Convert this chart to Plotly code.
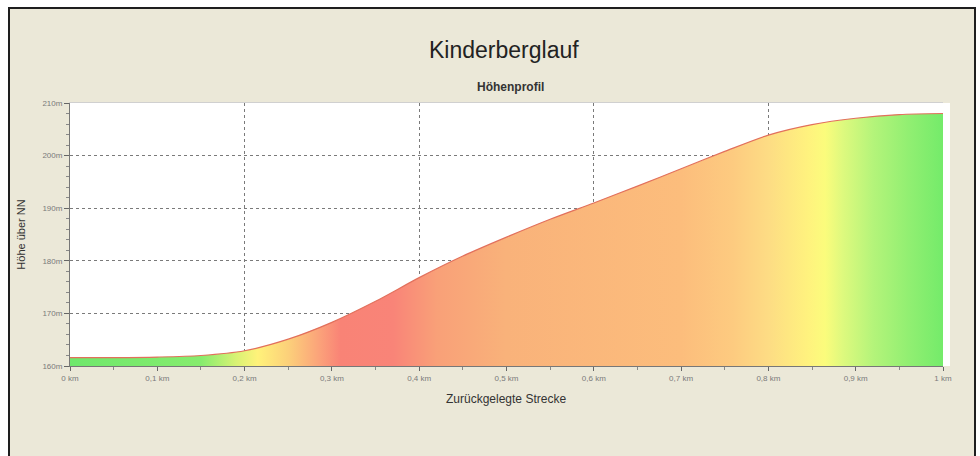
import plotly.graph_objects as go

# ---- data ----
distance_km = [0.0, 0.05, 0.1, 0.15, 0.2, 0.25, 0.3, 0.35, 0.4, 0.45, 0.5,
               0.55, 0.6, 0.65, 0.7, 0.75, 0.8, 0.85, 0.9, 0.95, 1.0]
elevation_m = [161.6, 161.6, 161.7, 162.0, 162.9, 165.1, 168.3, 172.3, 176.8, 180.9, 184.5,
               187.9, 191.0, 194.2, 197.5, 200.8, 203.9, 205.9, 207.1, 207.8, 208.0]

x_tick_vals = [0.0, 0.1, 0.2, 0.3, 0.4, 0.5, 0.6, 0.7, 0.8, 0.9, 1.0]
x_tick_text = ["0 km", "0,1 km", "0,2 km", "0,3 km", "0,4 km", "0,5 km",
               "0,6 km", "0,7 km", "0,8 km", "0,9 km", "1 km"]
x_grid_vals = [0.2, 0.4, 0.6, 0.8, 1.0]
y_tick_vals = [160, 170, 180, 190, 200, 210]
y_tick_text = ["160m", "170m", "180m", "190m", "200m", "210m"]

# gradient stops along the distance (slope colouring)
grad_pos = [0.0, 0.15, 0.19, 0.215, 0.25, 0.285, 0.31, 0.37, 0.42, 0.5, 0.7, 0.76,
            0.8, 0.845, 0.865, 0.885, 0.92, 0.96, 1.0]
grad_col = ["#6fe86c", "#86ec6e", "#d8f274", "#fff27a", "#fcd07a", "#fba37a", "#f98376",
            "#f98478", "#f9a078", "#f9b27a", "#fcbd7c", "#fdcb80", "#fddc84", "#fff27e",
            "#fbfc7c", "#def97e", "#b4f47a", "#92ef72", "#74eb6a"]

FONT = "Liberation Sans, Arial, sans-serif"
W, H = 980, 456

fig = go.Figure()

fig.add_trace(go.Scatter(
    x=distance_km, y=elevation_m, mode="lines",
    line=dict(color="#e2705c", width=1.2, shape="spline", smoothing=0.8),
    fill="tozeroy",
    fillgradient=dict(type="horizontal",
                      colorscale=[[p, c] for p, c in zip(grad_pos, grad_col)]),
    hoverinfo="skip", showlegend=False,
))
# helper trace for the labelled axis
fig.add_trace(go.Scatter(x=[distance_km[0], distance_km[-1]], y=[elevation_m[0], elevation_m[0]],
                         xaxis="x2", mode="lines", line=dict(width=0),
                         hoverinfo="skip", showlegend=False))

# pixel positions of the plot area
PL, PR, PT, PB = 70, 943, 103, 366
pw, ph = PR - PL, PB - PT


def px(xp):
    return (xp - PL) / pw


def py(yp):
    return (PB - yp) / ph


fig.add_shape(type="rect", xref="paper", yref="paper",
              x0=px(9), x1=px(975), y0=py(480), y1=py(8),
              fillcolor="#ebe8d8", line=dict(color="#1e1e1e", width=2), layer="below")
fig.add_shape(type="rect", xref="paper", yref="paper",
              x0=0, x1=px(950), y0=0, y1=1,
              fillcolor="#ffffff", line=dict(width=0), layer="below")

fig.update_layout(
    width=W, height=H,
    margin=dict(l=PL, r=W - PR, t=PT, b=H - PB),
    paper_bgcolor="#ffffff", plot_bgcolor="rgba(0,0,0,0)",
    font=dict(family=FONT, color="#333333"),
    xaxis=dict(range=[0, 1], tickvals=x_grid_vals, showticklabels=False,
               showgrid=True, gridcolor="#7a7a7a", griddash="dot", gridwidth=1,
               zeroline=False, showline=True, linecolor="#d0d0d0", mirror=True,
               ticks=""),
    xaxis2=dict(range=[0, 1], overlaying="x", anchor="y", side="bottom",
                tickvals=x_tick_vals, ticktext=x_tick_text,
                tickfont=dict(size=8, color="#7a7a7a", family=FONT),
                ticks="outside", ticklen=4, tickcolor="#666666",
                minor=dict(dtick=0.05, ticks="outside", ticklen=3, tickcolor="#888888"),
                showgrid=False, zeroline=False, showline=True, linecolor="#777777"),
    yaxis=dict(range=[160, 210], tickvals=y_tick_vals, ticktext=y_tick_text,
               tickfont=dict(size=8, color="#7a7a7a", family=FONT),
               showgrid=True, gridcolor="#7a7a7a", griddash="dot", gridwidth=1,
               zeroline=False, showline=True, linecolor="#777777",
               ticks="outside", ticklen=5, tickcolor="#666666",
               minor=dict(dtick=2, ticks="outside", ticklen=3, tickcolor="#888888"),
               title=dict(text="Höhe über NN", font=dict(size=11, color="#333333"), standoff=14)),
)

fig.add_annotation(text="Kinderberglauf", xref="paper", yref="paper",
                   x=px(504), y=py(50), yanchor="middle", showarrow=False,
                   font=dict(size=23, color="#222222", family=FONT))
fig.add_annotation(text="<b>Höhenprofil</b>", xref="paper", yref="paper",
                   x=px(510), y=py(87), yanchor="middle", showarrow=False,
                   font=dict(size=12, color="#333333", family=FONT))
fig.add_annotation(text="Zurückgelegte Strecke", xref="paper", yref="paper",
                   x=px(506), y=py(399), yanchor="middle", showarrow=False,
                   font=dict(size=12, color="#333333", family=FONT))

fig.write_html("out.html", config={"displayModeBar": False},
               post_script="document.body.style.margin='0px';")
